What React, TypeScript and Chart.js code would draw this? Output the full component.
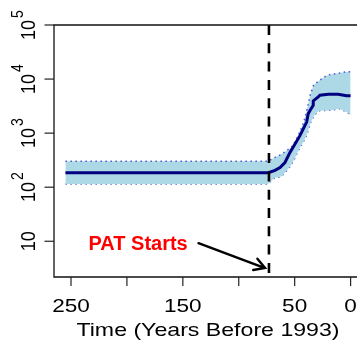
import React, { useEffect, useRef } from "react";
import { Chart, registerables } from "chart.js";

Chart.register(...registerables);

const FONT = '"Liberation Sans", Arial, Helvetica, sans-serif';

// Confidence band (years before 1993 -> population estimate)
const BAND_YEARS = [255, 74, 68, 62, 56, 53, 50, 47, 44, 42, 39, 36, 33, 30, 27, 24, 20, 15, 10, 5, 2, 0];
const BAND_UPPER = [302, 302, 352, 405, 494, 540, 680, 885, 1250, 1560, 2700, 5200, 7800, 8700, 9700, 10800, 11900, 12400, 12900, 13500, 13700, 13700];
const BAND_LOWER = [115, 115, 148, 157, 214, 260, 340, 465, 600, 700, 950, 1520, 2050, 2450, 2630, 2630, 2630, 2700, 2830, 2550, 2350, 2120];

// Median trajectory
const MEAN_YEARS = [255, 73.6, 67.6, 63.1, 58.7, 54.2, 49.7, 45.3, 42.3, 39.3, 37.9, 36.3, 33.4, 33.4, 28.9, 27.4, 20, 11.1, 3.6, 0];
const MEAN_VALUES = [186, 186, 205, 231, 286, 440, 628, 898, 1197, 1600, 2285, 2630, 3265, 3945, 4690, 5020, 5250, 5250, 4900, 4900];

// Axes
const X_TICKS = [250, 200, 150, 100, 50, 0];
const X_LABELS = ["250", "", "150", "", "50", "0"];
const Y_TICKS = [10, 100, 1000, 10000, 100000];
const Y_EXPONENTS = ["", "2", "3", "4", "5"];
const X_RANGE = [-10.2, 265.2];
const Y_RANGE = [2.183, 100000];

// Annotation
const PAT_START = 73;
const PAT_TEXT = "PAT Starts";
const PAT_TEXT_AT = [190, 7];
const ARROW_FROM = [136, 9.2];
const ARROW_TO = [76.5, 3.2];

const pts = (xs: number[], ys: number[]) => xs.map((x, i) => ({ x, y: ys[i] }));

function drawPower(ctx: CanvasRenderingContext2D, exp: string, bx: number, cy: number) {
  ctx.save();
  ctx.translate(bx, cy);
  ctx.scale(1.16, 1);
  ctx.rotate(-Math.PI / 2);
  ctx.fillStyle = "#000";
  ctx.textAlign = "left";
  ctx.textBaseline = "alphabetic";
  ctx.font = `18px ${FONT}`;
  const wBase = ctx.measureText("10").width;
  ctx.font = `14px ${FONT}`;
  const gap = 2;
  const wExp = exp ? ctx.measureText(exp).width + gap : 0;
  const start = -(wBase + wExp) / 2;
  ctx.font = `18px ${FONT}`;
  ctx.fillText("10", start, 0);
  if (exp) {
    ctx.font = `14px ${FONT}`;
    ctx.fillText(exp, start + wBase + gap, -10);
  }
  ctx.restore();
}

function drawStretched(ctx: CanvasRenderingContext2D, text: string, x: number, y: number, font: string, sx: number) {
  ctx.save();
  ctx.translate(x, y);
  ctx.scale(sx, 1);
  ctx.font = font;
  ctx.fillStyle = "#000";
  ctx.textAlign = "center";
  ctx.textBaseline = "alphabetic";
  ctx.fillText(text, 0, 0);
  ctx.restore();
}

const decorations = {
  id: "decorations",
  afterDatasetsDraw(chart: any) {
    const { ctx, chartArea: a, scales } = chart;
    const xs = scales.x;
    const ys = scales.y;
    ctx.save();

    // PAT start marker
    const px = xs.getPixelForValue(PAT_START);
    ctx.strokeStyle = "#000";
    ctx.lineWidth = 2.6;
    ctx.setLineDash([10, 8.3]);
    ctx.beginPath();
    ctx.moveTo(px, a.top);
    ctx.lineTo(px, a.bottom);
    ctx.stroke();
    ctx.setLineDash([]);

    // frame
    ctx.strokeStyle = "#111";
    ctx.lineWidth = 1.3;
    ctx.beginPath();
    ctx.moveTo(a.right, a.top);
    ctx.lineTo(a.left, a.top);
    ctx.lineTo(a.left, a.bottom);
    ctx.lineTo(a.right, a.bottom);
    ctx.stroke();

    // x ticks and labels
    ctx.lineWidth = 1.2;
    ctx.strokeStyle = "#222";
    X_TICKS.forEach((t, i) => {
      const x = xs.getPixelForValue(t);
      ctx.beginPath();
      ctx.moveTo(x, a.bottom);
      ctx.lineTo(x, a.bottom + 9);
      ctx.stroke();
      if (X_LABELS[i]) drawStretched(ctx, X_LABELS[i], x, a.bottom + 35, `18.5px ${FONT}`, 1.22);
    });
    drawStretched(ctx, "Time (Years Before 1993)", (a.left + a.right) / 2, a.bottom + 59, `18.5px ${FONT}`, 1.25);

    // y ticks and labels
    Y_TICKS.forEach((t, i) => {
      const y = ys.getPixelForValue(t);
      ctx.beginPath();
      ctx.moveTo(a.left - 9.5, y);
      ctx.lineTo(a.left, y);
      ctx.stroke();
      drawPower(ctx, Y_EXPONENTS[i], 35, y);
    });

    // annotation
    ctx.fillStyle = "#ff0000";
    ctx.font = `bold 20px ${FONT}`;
    ctx.textAlign = "center";
    ctx.textBaseline = "alphabetic";
    ctx.fillText(PAT_TEXT, xs.getPixelForValue(PAT_TEXT_AT[0]), ys.getPixelForValue(PAT_TEXT_AT[1]));

    const x0 = xs.getPixelForValue(ARROW_FROM[0]);
    const y0 = ys.getPixelForValue(ARROW_FROM[1]);
    const x1 = xs.getPixelForValue(ARROW_TO[0]);
    const y1 = ys.getPixelForValue(ARROW_TO[1]);
    const ang = Math.atan2(y1 - y0, x1 - x0);
    const head = 12;
    ctx.strokeStyle = "#000";
    ctx.lineWidth = 2.4;
    ctx.lineCap = "round";
    ctx.beginPath();
    ctx.moveTo(x0, y0);
    ctx.lineTo(x1, y1);
    ctx.moveTo(x1 - head * Math.cos(ang - Math.PI / 6), y1 - head * Math.sin(ang - Math.PI / 6));
    ctx.lineTo(x1, y1);
    ctx.lineTo(x1 - head * Math.cos(ang + Math.PI / 6), y1 - head * Math.sin(ang + Math.PI / 6));
    ctx.stroke();

    ctx.restore();
  },
};

export default function App() {
  const ref = useRef<HTMLCanvasElement>(null);

  useEffect(() => {
    const canvas = ref.current;
    if (!canvas) return;
    const edge = {
      borderColor: "rgba(45, 65, 215, 0.85)",
      borderWidth: 1.5,
      borderDash: [1.5, 3.5],
      pointRadius: 0,
      tension: 0,
    };
    const chart = new Chart(canvas, {
      type: "line",
      data: {
        datasets: [
          {
            label: "median",
            data: pts(MEAN_YEARS, MEAN_VALUES),
            borderColor: "#000080",
            borderWidth: 3,
            pointRadius: 0,
            tension: 0,
            fill: false,
          },
          {
            label: "upper",
            data: pts(BAND_YEARS, BAND_UPPER),
            ...edge,
            backgroundColor: "#add8e6",
            fill: "+1",
          },
          {
            label: "lower",
            data: pts(BAND_YEARS, BAND_LOWER),
            ...edge,
            fill: false,
          },
        ],
      },
      options: {
        animation: false,
        responsive: false,
        devicePixelRatio: 1,
        layout: { padding: { left: 54, top: 25, right: 8, bottom: 65 } },
        plugins: { legend: { display: false }, tooltip: { enabled: false } },
        scales: {
          x: { type: "linear", reverse: true, min: X_RANGE[0], max: X_RANGE[1], display: false },
          y: { type: "logarithmic", min: Y_RANGE[0], max: Y_RANGE[1], display: false },
        },
      },
      plugins: [decorations],
    });
    return () => chart.destroy();
  }, []);

  return (
    <div
      style={{
        position: "fixed",
        left: 0,
        top: 0,
        width: 357,
        height: 342,
        overflow: "hidden",
        background: "#fff",
      }}
    >
      <canvas ref={ref} width={370} height={342} style={{ display: "block", width: 370, height: 342 }} />
    </div>
  );
}
